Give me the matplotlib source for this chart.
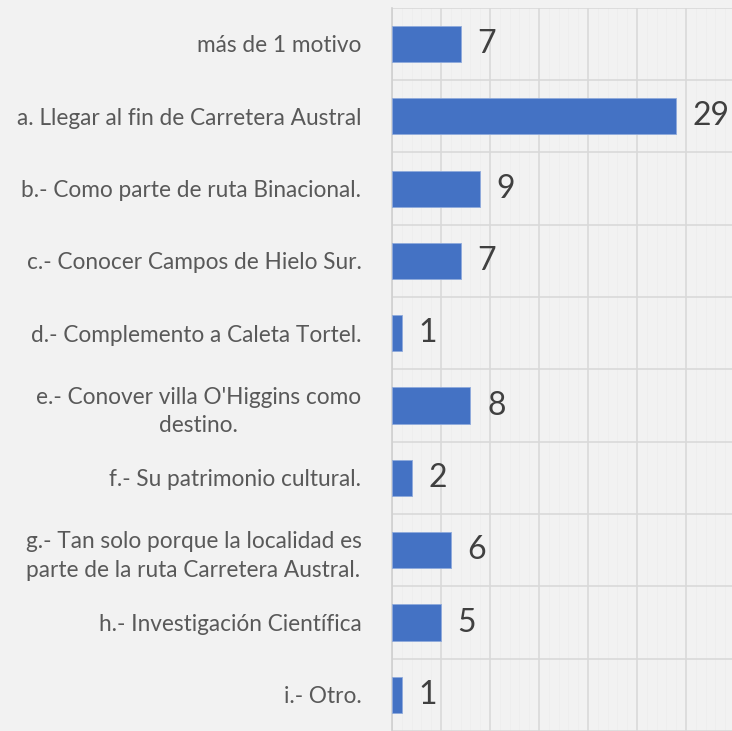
import matplotlib.pyplot as plt
from matplotlib.ticker import MultipleLocator

# Survey answers: reasons for visiting
categories = [
    "más de 1 motivo",
    "a. Llegar al fin de Carretera Austral",
    "b.- Como parte de ruta Binacional.",
    "c.- Conocer Campos de Hielo Sur.",
    "d.- Complemento a Caleta Tortel.",
    "e.- Conover villa O'Higgins como\ndestino.",
    "f.- Su patrimonio cultural.",
    "g.- Tan solo porque la localidad es\nparte de la ruta Carretera Austral.",
    "h.- Investigación Científica",
    "i.- Otro.",
]
counts = [7, 29, 9, 7, 1, 8, 2, 6, 5, 1]

bg = "#f2f2f2"
plt.rcParams['font.family'] = ['Lato', 'DejaVu Sans']

fig = plt.figure(figsize=(7.32, 7.31), dpi=100, facecolor=bg)
ax = fig.add_axes([392 / 732, 0.0, 1 - 392 / 732, 1 - 7.8 / 731])
ax.set_facecolor(bg)

pos = list(range(len(categories)))
ax.barh(pos, counts, height=0.5, color="#4472C4", edgecolor="#8faadc", linewidth=0.6, zorder=3)

ax.set_ylim(len(categories) - 0.5, -0.5)
ax.set_xlim(0, 34.7)

# gridlines
ax.xaxis.set_major_locator(MultipleLocator(5))
ax.xaxis.set_minor_locator(MultipleLocator(1))
ax.yaxis.set_minor_locator(MultipleLocator(1, offset=0.5))
ax.grid(axis="x", which="major", color="#d9d9d9", linewidth=1.2, zorder=0)
ax.grid(axis="x", which="minor", color="#eeeeee", linewidth=0.7, zorder=0)
ax.grid(axis="y", which="minor", color="#d9d9d9", linewidth=1.2, zorder=0)
ax.grid(axis="y", which="major", visible=False)

for s in ["top", "right", "bottom"]:
    ax.spines[s].set_visible(False)
ax.spines["left"].set_color("#d0d0d0")
ax.spines["left"].set_linewidth(1.2)

ax.set_yticks(pos)
ax.set_yticklabels(categories, fontsize=16.3, color="#595959",
                   multialignment="center", linespacing=1.45)
ax.tick_params(axis="y", which="both", length=0, pad=22)
ax.tick_params(axis="x", which="both", length=0, labelbottom=False)

for p, v in zip(pos, counts):
    ax.annotate(str(v), (v, p), xytext=(12, 0), textcoords="offset points",
                ha="left", va="center", fontsize=23, color="#404040",
                annotation_clip=False, clip_on=False)

fig.savefig("out.png", dpi=100, facecolor=bg)
